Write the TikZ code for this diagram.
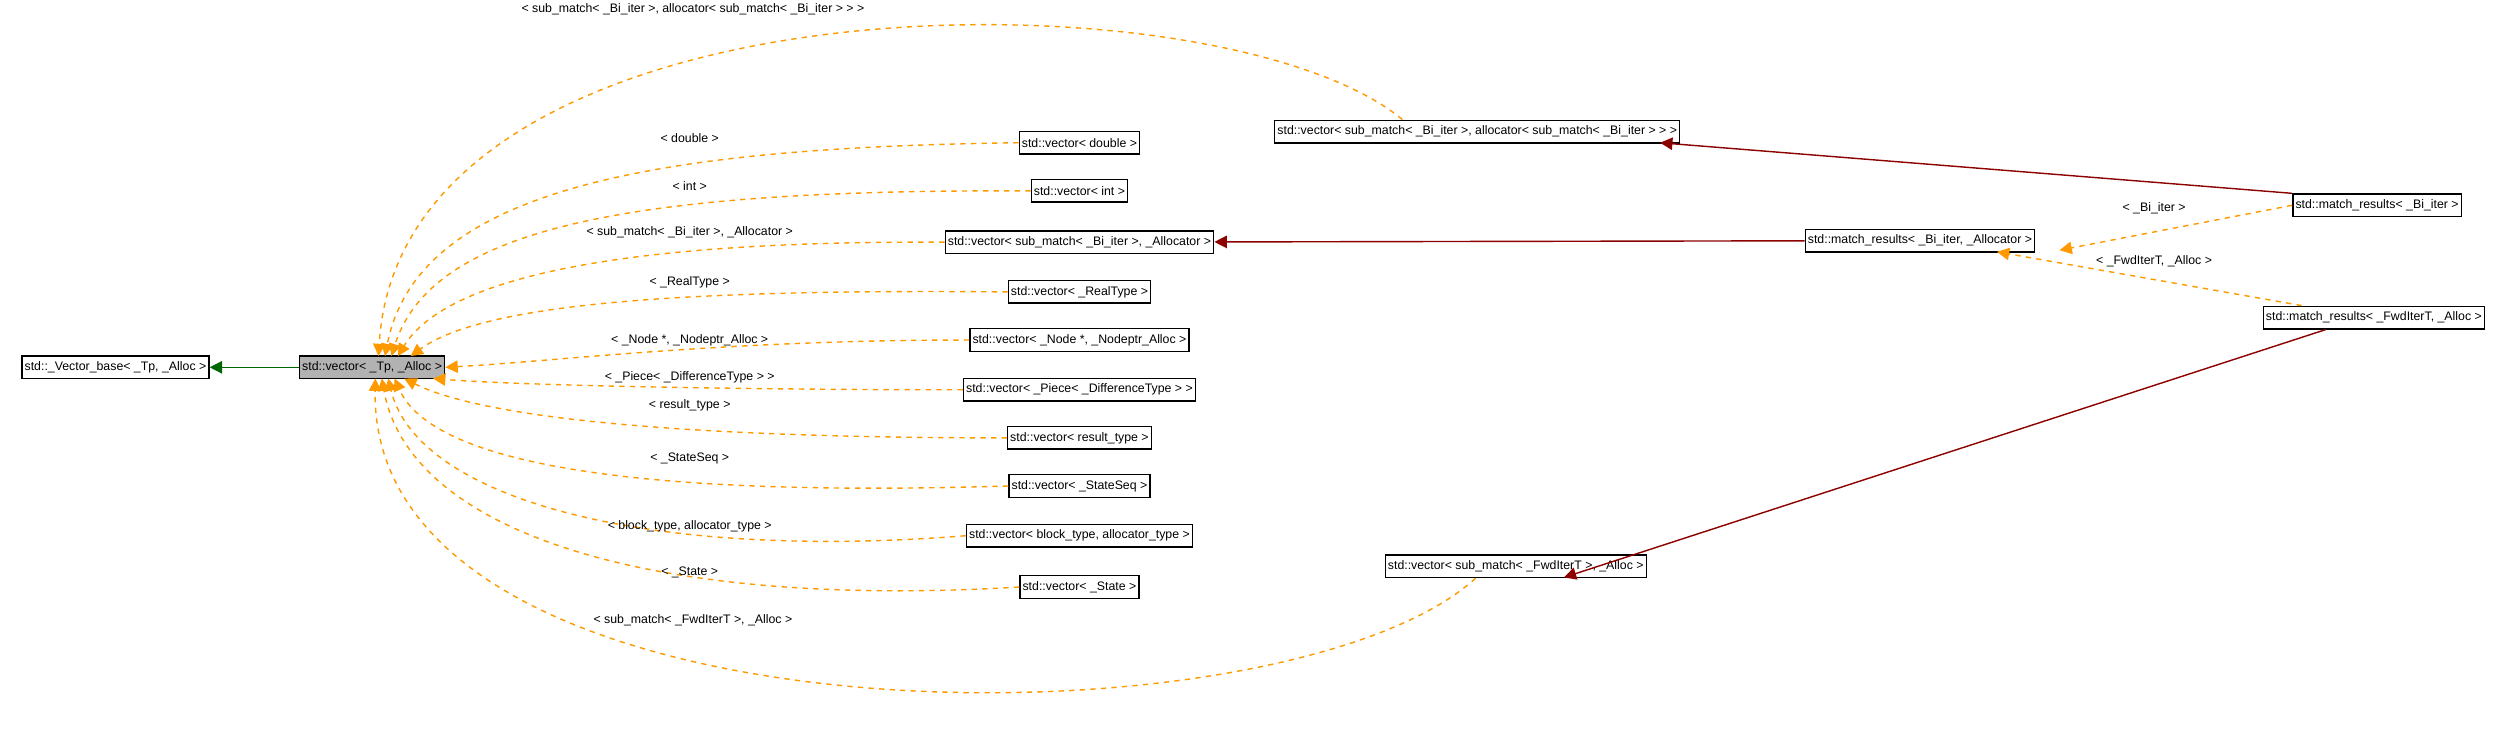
\documentclass[tikz,border=0pt]{standalone}
\usepackage{fontspec}
\setmainfont{Liberation Sans}
\usetikzlibrary{arrows.meta}

\tikzset{
	cls/.style={draw, thick, fill=white, inner sep=1.5pt, minimum height=0.45cm, font=\fontsize{7}{8}\selectfont},
	tmpl/.style={draw=orange!80!yellow, dashed, thick, -{Triangle[length=7pt,width=7pt]}},
	pub/.style={draw=red!55!black, thick, -{Triangle[length=7pt,width=7pt]}},
	base/.style={draw=green!40!black, thick, -{Triangle[length=7pt,width=7pt]}},
	lbl/.style={font=\fontsize{7}{8}\selectfont, inner sep=1pt},
}

\begin{document}
\begin{tikzpicture}[x=0.032cm, y=-0.032cm]
	\useasboundingbox (0,0) rectangle (1568,459);
	% classes
	\node[cls] (vbase) at (72,229) {std::\_Vector\_base< \_Tp, \_Alloc >};
	\node[cls, fill=gray!60] (vec) at (232,229) {std::vector< \_Tp, \_Alloc >};
	\node[cls] (vsubbi) at (921,82) {std::vector< sub\_match< \_Bi\_iter >, allocator< sub\_match< \_Bi\_iter > > >};
	\node[cls] (vdouble) at (673,89) {std::vector< double >};
	\node[cls] (vint) at (673,119) {std::vector< int >};
	\node[cls] (vsuba) at (673,151) {std::vector< sub\_match< \_Bi\_iter >, \_Allocator >};
	\node[cls] (vreal) at (673,182) {std::vector< \_RealType >};
	\node[cls] (vnode) at (673,212) {std::vector< \_Node *, \_Nodeptr\_Alloc >};
	\node[cls] (vpiece) at (673,243) {std::vector< \_Piece< \_DifferenceType > >};
	\node[cls] (vres) at (673,273) {std::vector< result\_type >};
	\node[cls] (vseq) at (673,303) {std::vector< \_StateSeq >};
	\node[cls] (vblock) at (673,334) {std::vector< block\_type, allocator\_type >};
	\node[cls] (vstate) at (673,366) {std::vector< \_State >};
	\node[cls] (vsubfwd) at (945,353) {std::vector< sub\_match< \_FwdIterT >, \_Alloc >};
	\node[cls] (mrba) at (1197,150) {std::match\_results< \_Bi\_iter, \_Allocator >};
	\node[cls] (mrbi) at (1482,128) {std::match\_results< \_Bi\_iter >};
	\node[cls] (mrfwd) at (1480,198) {std::match\_results< \_FwdIterT, \_Alloc >};

	% inheritance
	\draw[base] (vec) -- (vbase);
	\draw[tmpl] (vsubbi.north west) ++(80,0) .. controls (760,-20) and (250,-20) .. (236,222);
	\node[lbl] at (432,6) {< sub\_match< \_Bi\_iter >, allocator< sub\_match< \_Bi\_iter > > >};
	\draw[tmpl] (vdouble.west) .. controls (400,92) and (260,120) .. (240,222);
	\node[lbl] at (430,86) {< double >};
	\draw[tmpl] (vint.west) .. controls (400,118) and (270,140) .. (244,222);
	\node[lbl] at (430,116) {< int >};
	\draw[tmpl] (vsuba.west) .. controls (400,150) and (280,170) .. (248,222);
	\node[lbl] at (430,145) {< sub\_match< \_Bi\_iter >, \_Allocator >};
	\draw[tmpl] (vreal.west) .. controls (420,180) and (300,190) .. (256,222);
	\node[lbl] at (430,176) {< \_RealType >};
	\draw[tmpl] (vnode.west) .. controls (450,212) and (350,225) .. (vec.east);
	\node[lbl] at (430,212) {< \_Node *, \_Nodeptr\_Alloc >};
	\draw[tmpl] (vpiece.west) .. controls (450,243) and (320,240) .. (270,236);
	\node[lbl] at (430,235) {< \_Piece< \_DifferenceType > >};
	\draw[tmpl] (vres.west) .. controls (420,273) and (300,260) .. (252,236);
	\node[lbl] at (430,253) {< result\_type >};
	\draw[tmpl] (vseq.west) .. controls (400,310) and (270,290) .. (246,236);
	\node[lbl] at (430,286) {< \_StateSeq >};
	\draw[tmpl] (vblock.west) .. controls (400,350) and (260,310) .. (242,236);
	\node[lbl] at (430,328) {< block\_type, allocator\_type >};
	\draw[tmpl] (vstate.west) .. controls (400,380) and (255,330) .. (238,236);
	\node[lbl] at (430,357) {< \_State >};
	\draw[tmpl] (vsubfwd.south) ++(-25,0) .. controls (800,470) and (230,470) .. (234,236);
	\node[lbl] at (432,387) {< sub\_match< \_FwdIterT >, \_Alloc >};

	\draw[pub] (mrbi.north west) -- (1035,89);
	\draw[pub] (mrba) -- (vsuba);
	\draw[tmpl] (mrbi.west) -- (1284,156);
	\node[lbl] at (1343,130) {< \_Bi\_iter >};
	\draw[tmpl] (mrfwd.north) ++(-45,0) -- (1245,157);
	\node[lbl] at (1343,163) {< \_FwdIterT, \_Alloc >};
	\draw[pub] (mrfwd.south) ++(-30,0) -- (975,360);
\end{tikzpicture}
\end{document}
